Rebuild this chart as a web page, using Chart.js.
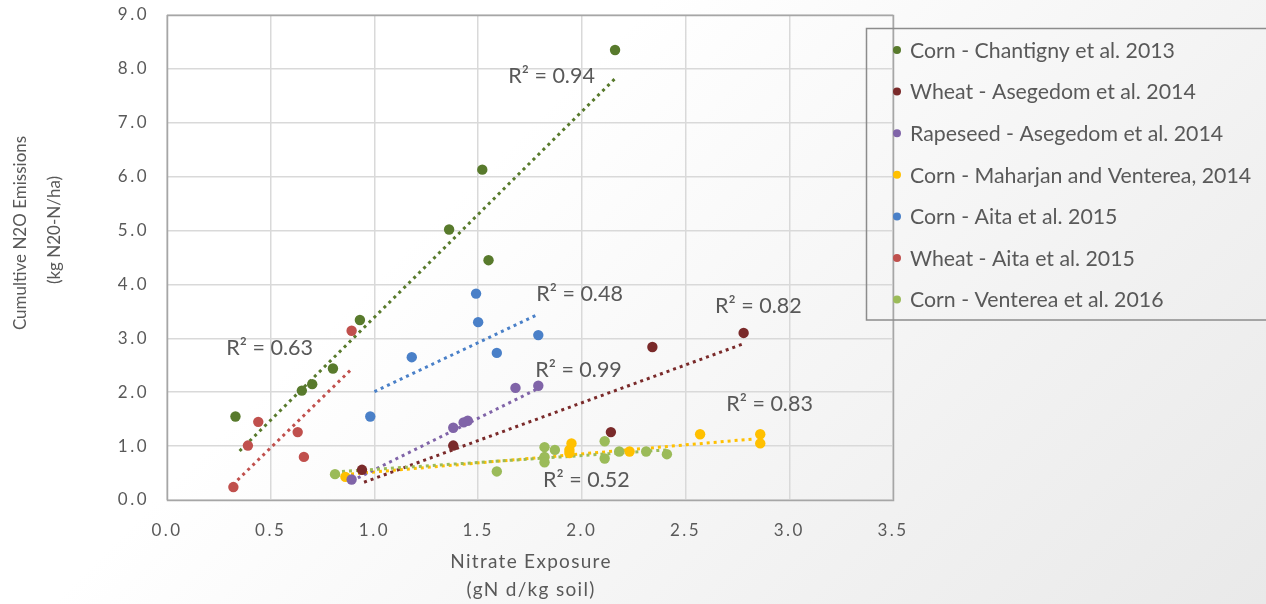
<!DOCTYPE html>
<html>
<head>
<meta charset="utf-8">
<script src="https://cdn.jsdelivr.net/npm/chart.js@4.4.1/dist/chart.umd.min.js"></script>
<style>
html,body{margin:0;padding:0;}
body{width:1266px;height:604px;overflow:hidden;background:linear-gradient(135deg,#ffffff 0%,#ffffff 35%,#f1f1f1 75%,#e9e9e9 100%);}
#wrap{position:relative;width:1266px;height:604px;}
canvas{display:block;}
</style>
</head>
<body>
<div id="wrap"><canvas id="c" width="1266" height="604"></canvas></div>
<script>
// ---- Data ----
const seriesNames = [
  'Corn - Chantigny et al. 2013',
  'Wheat - Asegedom et al. 2014',
  'Rapeseed - Asegedom et al. 2014',
  'Corn - Maharjan and Venterea, 2014',
  'Corn - Aita et al. 2015',
  'Wheat - Aita et al. 2015',
  'Corn - Venterea et al. 2016'
];
const seriesColors = ['#587a2c','#7a2a2a','#8064a8','#ffc000','#4a80c8','#c0504d','#9bbb59'];

const chantignyX = [2.16, 1.52, 1.36, 1.55, 0.93, 0.80, 0.70, 0.65, 0.33];
const chantignyY = [8.35, 6.13, 5.02, 4.45, 3.34, 2.44, 2.15, 2.03, 1.55];

const wheatAsegX = [2.78, 2.34, 2.14, 1.38, 0.94];
const wheatAsegY = [3.10, 2.84, 1.26, 1.01, 0.56];

const rapeseedX = [1.79, 1.68, 1.45, 1.43, 1.38, 0.89];
const rapeseedY = [2.12, 2.08, 1.47, 1.44, 1.34, 0.38];

const maharjanX = [2.86, 2.86, 2.57, 2.23, 1.95, 1.94, 1.94, 0.86];
const maharjanY = [1.22, 1.05, 1.22, 0.90, 1.05, 0.93, 0.87, 0.43];

const cornAitaX = [1.49, 1.50, 1.79, 1.18, 1.59, 0.98];
const cornAitaY = [3.83, 3.30, 3.06, 2.65, 2.73, 1.55];

const wheatAitaX = [0.89, 0.44, 0.63, 0.39, 0.66, 0.32];
const wheatAitaY = [3.14, 1.45, 1.26, 1.01, 0.80, 0.24];

const ventereaX = [0.81, 1.82, 1.82, 1.82, 1.87, 1.59, 2.11, 2.11, 2.18, 2.31, 2.41];
const ventereaY = [0.48, 0.98, 0.80, 0.70, 0.93, 0.53, 1.09, 0.77, 0.90, 0.90, 0.85];

// trend line end points [x0, x1] and [y0, y1]
const trendX = [[0.35, 2.16],[0.95, 2.78],[0.92, 1.79],[0.82, 2.82],[1.00, 1.78],[0.34, 0.89],[0.81, 2.41]];
const trendY = [[0.91, 7.82],[0.33, 2.90],[0.41, 2.07],[0.46, 1.13],[2.01, 3.43],[0.37, 2.43],[0.52, 0.93]];

// R² labels: text, x, y (data coords of label centre)
const r2Text = ['R² = 0.94','R² = 0.82','R² = 0.99','R² = 0.83','R² = 0.48','R² = 0.63','R² = 0.52'];
const r2X = [1.854, 2.851, 1.984, 2.905, 1.989, 0.495, 2.022];
const r2Y = [7.87, 3.60, 2.41, 1.78, 3.82, 2.82, 0.37];

const xTicks = [0.0, 0.5, 1.0, 1.5, 2.0, 2.5, 3.0, 3.5];
const yTicks = [0,1,2,3,4,5,6,7,8,9];

// ---- build datasets ----
const scatterX = [chantignyX, wheatAsegX, rapeseedX, maharjanX, cornAitaX, wheatAitaX, ventereaX];
const scatterY = [chantignyY, wheatAsegY, rapeseedY, maharjanY, cornAitaY, wheatAitaY, ventereaY];
const zip = (xs, ys) => xs.map((x, i) => ({x, y: ys[i]}));

const datasets = [];
const trendOrder = [6,0,1,2,3,4,5];
trendOrder.forEach(i => {
  datasets.push({
    type: 'line',
    label: 'trend' + i,
    data: zip(trendX[i], trendY[i]),
    borderColor: seriesColors[i],
    borderWidth: 3,
    borderDash: [3, 4],
    pointRadius: 0,
    fill: false,
    order: 2
  });
});
const pointOrder = [6,0,1,2,3,4,5];
pointOrder.forEach(i => {
  datasets.push({
    type: 'scatter',
    label: seriesNames[i],
    data: zip(scatterX[i], scatterY[i]),
    backgroundColor: seriesColors[i],
    borderColor: seriesColors[i],
    pointRadius: 5.2,
    pointBorderWidth: 0,
    order: 1
  });
});

const FONT = 'Lato, "Open Sans", sans-serif';
const TXT = '#595959';

const plotLeft = 167, plotRight = 893, plotTop = 15, plotBottom = 500;

const spacing = {
  id: 'spacing',
  beforeDraw(chart) { chart.ctx.letterSpacing = '2.5px'; },
  beforeDatasetsDraw(chart) { chart.ctx.letterSpacing = '0px'; }
};

const overlay = {
  id: 'overlay',
  afterDraw(chart) {
    const ctx = chart.ctx;
    const xs = chart.scales.x, ys = chart.scales.y;
    ctx.save();
    ctx.letterSpacing = '0px';
    // plot border
    ctx.strokeStyle = '#a6a6a6';
    ctx.lineWidth = 1.5;
    ctx.strokeRect(xs.left + 0.5, ys.top + 0.5, xs.right - xs.left, ys.bottom - ys.top);
    // R² labels
    ctx.fillStyle = TXT;
    ctx.font = '21.5px ' + FONT;
    ctx.textAlign = 'center';
    ctx.textBaseline = 'middle';
    r2Text.forEach((t, i) => {
      ctx.fillText(t, xs.getPixelForValue(r2X[i]), ys.getPixelForValue(r2Y[i]));
    });
    // y title
    ctx.font = '17px ' + FONT;
    ctx.save();
    ctx.translate(21, 233);
    ctx.rotate(-Math.PI / 2);
    ctx.fillText('Cumultive N2O Emissions', 0, 0);
    ctx.restore();
    ctx.save();
    ctx.translate(55, 230);
    ctx.rotate(-Math.PI / 2);
    ctx.fillText('(kg N20-N/ha)', 0, 0);
    ctx.restore();
    // x title
    ctx.font = '19px ' + FONT;
    ctx.letterSpacing = '1.3px';
    ctx.fillText('Nitrate Exposure', 531, 562);
    ctx.fillText('(gN d/kg soil)', 531, 590);
    ctx.letterSpacing = '0px';
    // legend
    const lx = 866.5, ly = 28.5, lw = 420, lh = 291.5;
    ctx.strokeStyle = '#8c8c8c';
    ctx.lineWidth = 1.5;
    ctx.strokeRect(lx, ly, lw, lh);
    ctx.font = '21.3px ' + FONT;
    ctx.textAlign = 'left';
    seriesNames.forEach((name, i) => {
      const cy = 50 + i * 41.6;
      ctx.fillStyle = seriesColors[i];
      ctx.beginPath();
      ctx.arc(897, cy, 4, 0, Math.PI * 2);
      ctx.fill();
      ctx.fillStyle = TXT;
      ctx.fillText(name, 910, cy + 1);
    });
    ctx.restore();
  }
};

new Chart(document.getElementById('c'), {
  data: { datasets },
  options: {
    responsive: false,
    animation: false,
    layout: { padding: { left: 0, right: 1266 - plotRight, top: plotTop, bottom: 0 } },
    plugins: { legend: { display: false }, tooltip: { enabled: false } },
    scales: {
      x: {
        type: 'linear', min: 0, max: 3.5,
        afterBuildTicks: s => { s.ticks = xTicks.map(v => ({value: v})); },
        afterFit: s => { s.height = 604 - plotBottom; s.paddingLeft = 0; s.paddingRight = 0; },
        grid: { color: '#d9d9d9', lineWidth: 1.5, drawTicks: false },
        border: { display: false },
        ticks: { color: TXT, font: { family: FONT, size: 17 }, padding: 20, callback: v => Number(v).toFixed(1), maxRotation: 0, autoSkip: false }
      },
      y: {
        type: 'linear', min: 0, max: 9,
        afterBuildTicks: s => { s.ticks = yTicks.map(v => ({value: v})); },
        afterFit: s => { s.width = plotLeft; s.paddingTop = 0; s.paddingBottom = 0; },
        grid: { color: '#d9d9d9', lineWidth: 1.5, drawTicks: false },
        border: { display: false },
        ticks: { color: TXT, font: { family: FONT, size: 17 }, padding: 18, callback: v => Number(v).toFixed(1), autoSkip: false }
      }
    }
  },
  plugins: [spacing, overlay]
});
</script>
</body>
</html>
